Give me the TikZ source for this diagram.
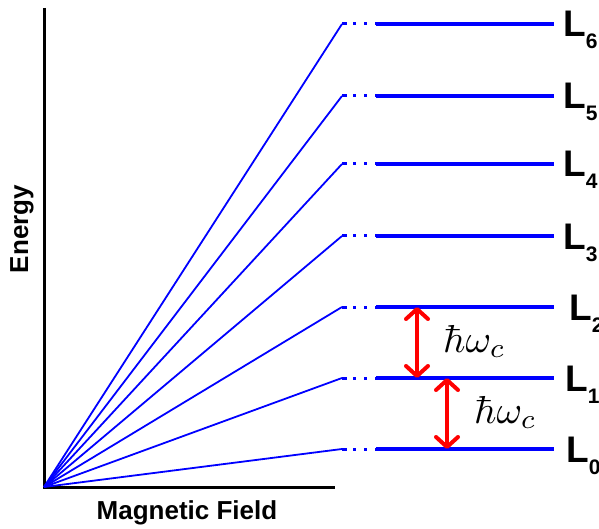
\documentclass[tikz,border=0pt]{standalone}
\usepackage[no-math]{fontspec}
\newfontfamily\labfont{Liberation Sans}
\usetikzlibrary{arrows.meta}
\definecolor{level}{HTML}{0000FF}
\definecolor{gapred}{HTML}{FF0000}

\begin{document}
\begin{tikzpicture}[x=1pt, y=-1pt,
  axis/.style={black, line width=3pt},
  fan/.style={level, line width=1.8pt},
  lvl/.style={level, line width=4.5pt},
  dots/.style={level, line width=3pt, dash pattern=on 5pt off 6pt on 3pt off 8pt on 3pt off 8pt},
  gap/.style={gapred, line width=4pt, {Straight Barb[length=10pt,width=22pt,round]}-{Straight Barb[length=10pt,width=22pt,round]}},
  lab/.style={font=\labfont\bfseries\fontsize{37}{37}\selectfont, inner sep=0pt, anchor=base west},
  axlab/.style={font=\labfont\bfseries\fontsize{26}{26}\selectfont, inner sep=0pt},
  hw/.style={inner sep=0pt, anchor=base west}]
  \useasboundingbox (0,0) rectangle (599,529);
  % axes
  \coordinate (O) at (44,487);
  \coordinate (top) at (44,8);
  \coordinate (right) at (335,487);
  \draw[axis] (top) -- (O) -- (right);
  \node[axlab, rotate=90] (energy) at (22,229) {Energy};
  \node[axlab] (field) at (187,513) {Magnetic Field};
  % Landau levels
  \foreach \n/\y/\lx in {0/449/566, 1/378/565, 2/307/569, 3/236/563, 4/164/563, 5/96/563, 6/24/563} {
    \coordinate (s\n) at (342,\y);
    \coordinate (a\n) at (376,\y);
    \coordinate (b\n) at (554,\y);
    \draw[fan] (O) -- (s\n);
    \draw[dots] (s\n) -- (a\n);
    \draw[lvl] (a\n) -- (b\n);
    \node[lab] (L\n) at (\lx,\y+13) {L\raisebox{-12pt}{\fontsize{21}{21}\selectfont\n}};
  }
  % spacing
  \coordinate (g2) at (417,307);
  \coordinate (g1) at (417,378);
  \coordinate (h1) at (447,378);
  \coordinate (h0) at (447,449);
  \draw[gap] (g2) -- (g1);
  \draw[gap] (h1) -- (h0);
  \node[hw] (hw1) at (443,352) {\scalebox{3.9}{$\hbar\omega_c$}};
  \node[hw] (hw0) at (474,423) {\scalebox{3.9}{$\hbar\omega_c$}};
\end{tikzpicture}
\end{document}
